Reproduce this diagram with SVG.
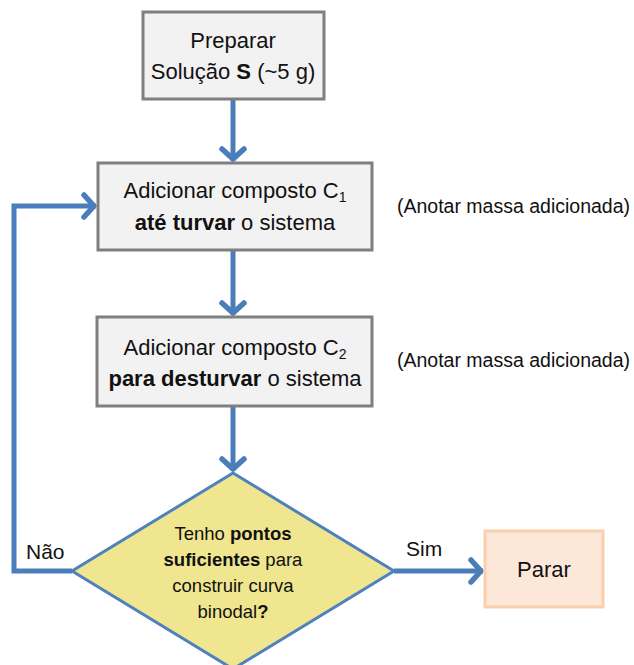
<svg xmlns="http://www.w3.org/2000/svg" width="634" height="665" viewBox="0 0 634 665">
<style>
text{font-family:"Liberation Sans","Open Sans",sans-serif;fill:#111}
.box{fill:#f2f2f2;stroke:#7f7f7f;stroke-width:3}
.t{font-size:22px;text-anchor:middle}
.d{font-size:18.5px;text-anchor:middle}
.n{font-size:19.5px}
.c{fill:none;stroke:#4a7ebb;stroke-width:5;stroke-linejoin:miter}
.b{font-weight:bold}
</style>
<defs>
<marker id="ah" markerUnits="userSpaceOnUse" markerWidth="30" markerHeight="34" viewBox="-18 -17 22 34" refX="0" refY="0" orient="auto">
<path d="M-12,-11 L-2,0 L-12,11" fill="none" stroke="#4a7ebb" stroke-width="5.5" stroke-linecap="round" stroke-linejoin="round"/>
</marker>
</defs>
<g id="connectors">
<path class="c" d="M233,99 L233,161" marker-end="url(#ah)"/>
<path class="c" d="M233,250 L233,315" marker-end="url(#ah)"/>
<path class="c" d="M233,407 L233,471" marker-end="url(#ah)"/>
<path class="c" d="M72,571 L14,571 L14,206 L96,206" marker-end="url(#ah)"/>
<path class="c" d="M394,571 L483,571" marker-end="url(#ah)"/>
</g>
<g id="n1">
<rect class="box" x="143" y="12" width="181" height="87"/>
<text class="t" x="233" y="48">Preparar</text>
<text class="t" x="233" y="79">Solução <tspan class="b">S</tspan> (~5 g)</text>
</g>
<g id="n2">
<rect class="box" x="98" y="163" width="274" height="87"/>
<text class="t" x="235" y="198">Adicionar composto C<tspan font-size="14" dy="4">1</tspan></text>
<text class="t" x="235" y="230"><tspan class="b">até turvar</tspan> o sistema</text>
</g>
<g id="n3">
<rect class="box" x="97" y="317" width="275" height="89"/>
<text class="t" x="235" y="355">Adicionar composto C<tspan font-size="14" dy="4">2</tspan></text>
<text class="t" x="235" y="386"><tspan class="b">para desturvar</tspan> o sistema</text>
</g>
<g id="note1"><text class="n" x="397" y="213">(Anotar massa adicionada)</text></g>
<g id="note2"><text class="n" x="397" y="367">(Anotar massa adicionada)</text></g>
<g id="n4">
<polygon points="233,473 394,571 233,669 72,571" fill="#efe68f" stroke="#4f81bd" stroke-width="3"/>
<text class="d" x="233" y="540">Tenho <tspan class="b">pontos</tspan></text>
<text class="d" x="233" y="566"><tspan class="b">suficientes</tspan> para</text>
<text class="d" x="233" y="592">construir curva</text>
<text class="d" x="233" y="618">binodal<tspan class="b">?</tspan></text>
</g>
<g id="n5">
<rect x="485" y="531" width="118" height="76" fill="#fde7d8" stroke="#f9cfae" stroke-width="3"/>
<text class="t" x="544" y="577" font-size="21">Parar</text>
</g>
<g id="labels">
<text x="26" y="559" font-size="21">Não</text>
<text x="406" y="556" font-size="21">Sim</text>
</g>
</svg>
